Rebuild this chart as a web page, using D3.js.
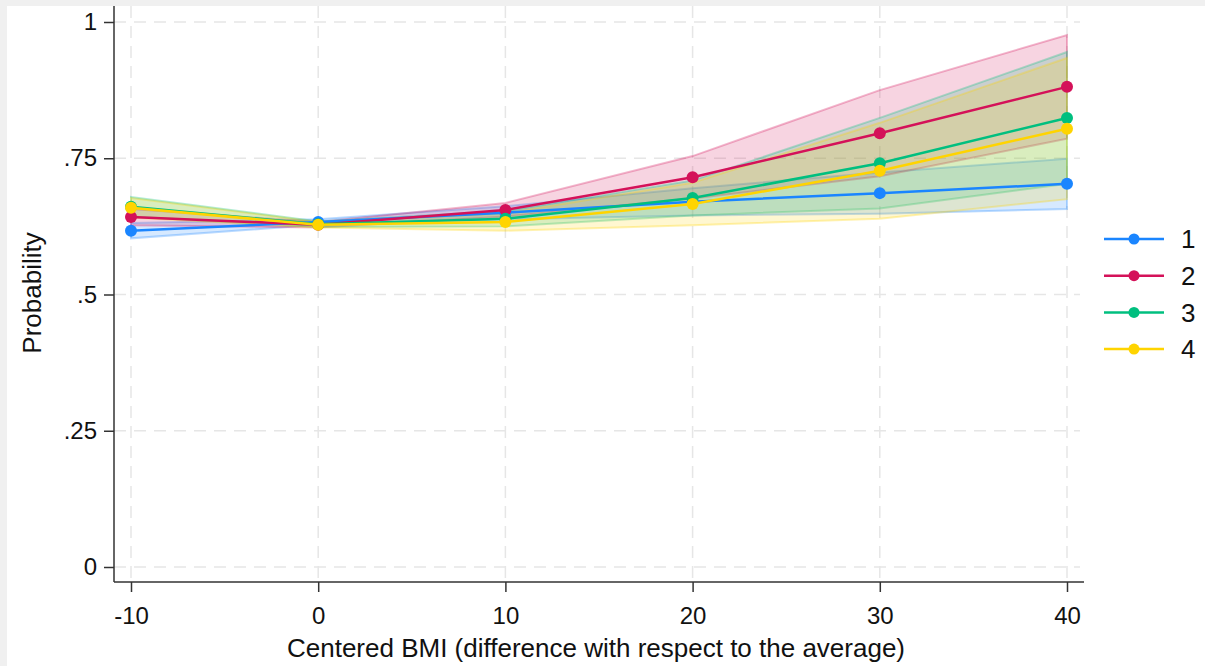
<!DOCTYPE html>
<html>
<head>
<meta charset="utf-8">
<script src="https://cdn.jsdelivr.net/npm/d3@7"></script>
<style>
  html, body { margin: 0; padding: 0; background: #f0f0f0; }
  svg { display: block; font-family: Arial, "Liberation Sans", sans-serif; }
</style>
</head>
<body>
<script>
// ** data
const bmi = [-10, 0, 10, 20, 30, 40];
const groups = ["1", "2", "3", "4"];
const colors = ["#1a85ff", "#d41159", "#00bf7f", "#ffd400"];

const est1 = [0.617, 0.633, 0.650, 0.670, 0.686, 0.703];
const lo1 = [0.603, 0.628, 0.638, 0.645, 0.648, 0.657];
const hi1 = [0.631, 0.638, 0.662, 0.695, 0.724, 0.749];

const est2 = [0.642, 0.628, 0.655, 0.715, 0.796, 0.881];
const lo2 = [0.627, 0.623, 0.643, 0.676, 0.717, 0.786];
const hi2 = [0.657, 0.633, 0.668, 0.754, 0.875, 0.976];

const est3 = [0.661, 0.629, 0.639, 0.677, 0.741, 0.824];
const lo3 = [0.643, 0.624, 0.625, 0.645, 0.658, 0.703];
const hi3 = [0.679, 0.634, 0.653, 0.709, 0.824, 0.945];

const est4 = [0.659, 0.628, 0.633, 0.666, 0.727, 0.804];
const lo4 = [0.641, 0.623, 0.617, 0.627, 0.639, 0.675];
const hi4 = [0.677, 0.633, 0.649, 0.705, 0.815, 0.934];

const yTicks = [0, 0.25, 0.5, 0.75, 1];
const yTickLabels = ["0", ".25", ".5", ".75", "1"];
const xTicks = [-10, 0, 10, 20, 30, 40];
const xTickLabels = ["-10", "0", "10", "20", "30", "40"];

const series = [
  { name: groups[0], est: est1, lo: lo1, hi: hi1, color: colors[0] },
  { name: groups[1], est: est2, lo: lo2, hi: hi2, color: colors[1] },
  { name: groups[2], est: est3, lo: lo3, hi: hi3, color: colors[2] },
  { name: groups[3], est: est4, lo: lo4, hi: hi4, color: colors[3] }
];

const W = 1205, H = 666;
const FONT = "Arial, 'Liberation Sans', sans-serif";
const svg = d3.select("body").append("svg").attr("width", W).attr("height", H);

// white panel inside the gray frame
svg.append("rect").attr("x", 7).attr("y", 6).attr("width", W - 7).attr("height", H - 6).attr("fill", "#fff");

const x = d3.scaleLinear().domain([-10, 40]).range([131, 1067]);
const y = d3.scaleLinear().domain([0, 1]).range([567, 22]);

const axisX0 = 114, axisY0 = 582;

// gridlines
const grid = svg.append("g").attr("stroke", "#e6e6e6").attr("stroke-width", 1.5).attr("stroke-dasharray", "12,8");
grid.selectAll("line.h").data(yTicks).join("line")
  .attr("x1", axisX0).attr("x2", 1080)
  .attr("y1", d => y(d)).attr("y2", d => y(d));
grid.selectAll("line.v").data(xTicks).join("line")
  .attr("y1", 6).attr("y2", axisY0)
  .attr("x1", d => x(d)).attr("x2", d => x(d));

// confidence bands
const area = d3.area()
  .x((d, i) => x(bmi[i]))
  .y0(d => y(d[0]))
  .y1(d => y(d[1]));

series.forEach(s => {
  const pts = bmi.map((b, i) => [s.lo[i], s.hi[i]]);
  svg.append("path")
    .datum(pts)
    .attr("d", area)
    .attr("fill", s.color)
    .attr("fill-opacity", 0.18)
    .attr("stroke", s.color)
    .attr("stroke-opacity", 0.3)
    .attr("stroke-width", 2);
});

// lines + markers
const line = d3.line().x((d, i) => x(bmi[i])).y(d => y(d));
series.forEach(s => {
  svg.append("path")
    .datum(s.est)
    .attr("d", line)
    .attr("fill", "none")
    .attr("stroke", s.color)
    .attr("stroke-width", 2.5);
  svg.append("g").selectAll("circle").data(s.est).join("circle")
    .attr("cx", (d, i) => x(bmi[i]))
    .attr("cy", d => y(d))
    .attr("r", 6)
    .attr("fill", s.color);
});

// axes
const xAxis = d3.axisBottom(x).tickValues(xTicks).tickFormat((d, i) => xTickLabels[i])
  .tickSize(10).tickSizeOuter(0).tickPadding(15);
const gx = svg.append("g").attr("transform", `translate(0,${axisY0})`).call(xAxis);
gx.select(".domain").remove();
gx.append("line").attr("x1", axisX0).attr("x2", 1084).attr("stroke", "#333").attr("stroke-width", 1.5);
gx.selectAll(".tick line").attr("stroke", "#333").attr("stroke-width", 1.5);
gx.selectAll(".tick text").attr("fill", "#111").attr("font-size", 24).attr("font-family", FONT);

const yAxis = d3.axisLeft(y).tickValues(yTicks).tickFormat((d, i) => yTickLabels[i])
  .tickSize(10).tickSizeOuter(0).tickPadding(7);
const gy = svg.append("g").attr("transform", `translate(${axisX0},0)`).call(yAxis);
gy.select(".domain").remove();
gy.append("line").attr("y1", 6).attr("y2", axisY0).attr("stroke", "#333").attr("stroke-width", 1.5);
gy.selectAll(".tick line").attr("stroke", "#333").attr("stroke-width", 1.5);
gy.selectAll(".tick text").attr("fill", "#111").attr("font-size", 24).attr("font-family", FONT);

// axis titles
svg.append("text")
  .attr("x", 596).attr("y", 657)
  .attr("text-anchor", "middle")
  .attr("font-size", 26).attr("fill", "#111")
  .text("Centered BMI (difference with respect to the average)");

svg.append("text")
  .attr("transform", "translate(41,293) rotate(-90)")
  .attr("text-anchor", "middle")
  .attr("font-size", 26).attr("fill", "#111")
  .text("Probability");

// legend
const legend = svg.append("g").selectAll("g").data(series).join("g")
  .attr("transform", (d, i) => `translate(0,${239 + i * 36.7})`);
legend.append("line").attr("x1", 1104).attr("x2", 1164).attr("stroke", d => d.color).attr("stroke-width", 2.5);
legend.append("circle").attr("cx", 1134).attr("r", 5.5).attr("fill", d => d.color);
legend.append("text").attr("x", 1181).attr("dy", "0.36em")
  .attr("font-size", 26).attr("fill", "#111")
  .text(d => d.name);
</script>
</body>
</html>
